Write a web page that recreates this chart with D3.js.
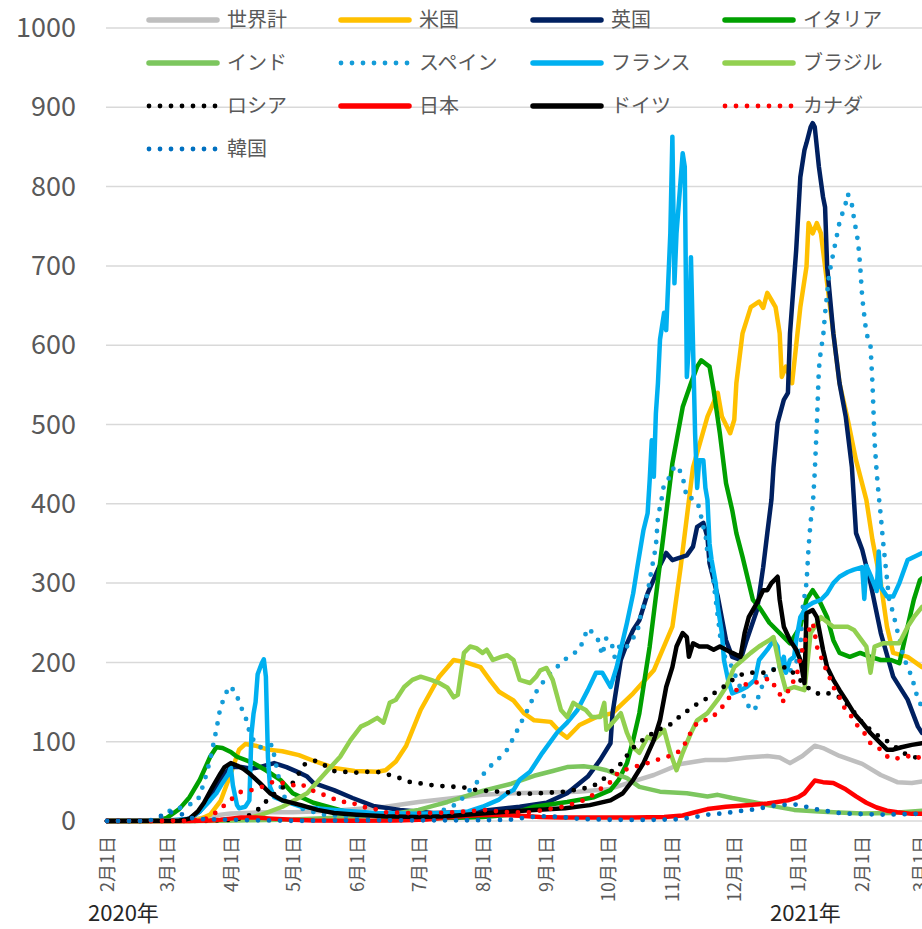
<!DOCTYPE html>
<html>
<head>
<meta charset="utf-8">
<script src="https://cdn.jsdelivr.net/npm/d3@7"></script>
<style>
  body { margin: 0; background: #fff; }
  svg text { font-family: "Noto Sans CJK JP", "Noto Sans", sans-serif; }
</style>
</head>
<body>
<div id="chart"></div>
<script>
// 凡例の順番（Excel の系列順）
const seriesNames = ["世界計", "米国", "英国", "イタリア", "インド", "スペイン", "フランス", "ブラジル", "ロシア", "日本", "ドイツ", "カナダ", "韓国"];
const seriesColors = ["#bfbfbf", "#ffc000", "#002060", "#00a000", "#7cc65e", "#149cd8", "#00b0f0", "#92d050", "#000000", "#ff0000", "#000000", "#ff0000", "#0070c0"];
const seriesDotted = [false, false, false, false, false, true, false, false, true, false, false, true, true];

const yTicks = [0, 100, 200, 300, 400, 500, 600, 700, 800, 900, 1000];
const yearLabels = ["2020年", "2021年"];

// 値: [2020/2/1 からの日数, 人口100万人あたり新規感染者数]
const world = [[0,0],[20,0.3],[29,1],[40,2],[50,5],[55,8],[60,9.5],[70,10.5],[80,11],[90,11],[100,12],[110,13],[121,15],[135,18],[151,24],[165,28],[182,33],[196,35],[213,36],[228,37],[243,40],[255,50],[265,58],[278,72],[290,77],[300,77],[310,80],[320,82],[326,80],[331,73],[337,82],[343,95],[347,92],[355,82],[366,72],[375,58],[383,49],[390,48],[395,50]];
const usa = [[0,0],[30,0.1],[40,0.5],[45,2],[50,8],[55,25],[60,60],[64,90],[67,97],[72,95],[78,90],[85,88],[93,83],[100,76],[110,67],[120,63],[131,62],[135,64],[140,75],[145,95],[152,140],[161,182],[168,203],[174,200],[181,194],[186,176],[190,163],[197,152],[202,136],[207,127],[215,125],[220,111],[223,105],[229,121],[237,131],[245,136],[255,161],[265,190],[274,245],[278,320],[284,446],[291,510],[296,540],[298,510],[302,489],[304,506],[305,552],[308,615],[312,648],[316,655],[318,647],[320,666],[322,657],[324,648],[326,615],[327,560],[329,573],[332,552],[336,648],[339,699],[340,754],[342,741],[344,754],[346,741],[349,678],[352,615],[355,552],[359,506],[363,455],[368,405],[371,354],[375,300],[378,245],[381,212],[388,207],[395,194]];
const uk = [[0,0],[35,0.5],[40,3],[45,12],[50,30],[56,56],[60,68],[65,68],[70,66],[74,68],[81,73],[87,68],[94,60],[97,56],[100,48],[110,39],[119,29],[129,19],[142,14],[158,10],[175,11],[190,15],[200,18],[213,23],[223,35],[233,56],[239,77],[244,98],[245,136],[249,203],[252,224],[255,241],[258,253],[262,287],[267,317],[271,338],[274,329],[281,335],[284,346],[286,371],[289,376],[291,358],[292,325],[296,283],[300,228],[303,207],[307,203],[310,228],[315,266],[318,320],[320,363],[322,405],[323,446],[325,502],[328,531],[330,540],[331,615],[334,720],[336,812],[338,846],[339,855],[341,875],[342,880],[343,875],[345,825],[347,787],[348,774],[349,699],[352,615],[355,552],[358,510],[361,446],[363,363],[366,342],[370,300],[375,237],[381,182],[388,153],[393,119],[395,111]];
const italy = [[0,0],[20,0],[25,1],[29,4],[35,15],[40,30],[45,52],[50,81],[53,93],[56,92],[60,87],[63,81],[71,73],[77,64],[84,52],[90,35],[100,23],[110,16],[121,8],[135,5],[151,3.5],[170,4],[182,5],[195,8],[207,18],[223,24],[236,30],[244,39],[248,52],[252,73],[255,102],[258,136],[263,220],[267,304],[271,388],[274,451],[279,522],[283,552],[286,573],[288,581],[290,577],[292,573],[294,543],[297,489],[300,426],[303,392],[305,363],[308,333],[313,279],[316,270],[321,250],[326,237],[331,224],[336,245],[339,279],[342,291],[345,279],[349,257],[352,228],[355,212],[360,207],[365,212],[370,207],[375,203],[380,203],[384,199],[388,245],[391,279],[394,304],[395,306]];
const india = [[0,0],[40,0],[55,0.3],[70,0.8],[90,1.8],[105,3.5],[121,5.5],[135,7.5],[151,14],[158,19],[165,24],[182,38],[196,47],[207,57],[216,63],[223,68],[231,69],[237,67],[242,64],[252,54],[258,43],[268,37],[281,35],[291,31],[296,33],[303,29],[313,24],[320,20],[333,14],[345,12],[352,11],[366,9.5],[380,10],[395,13]];
const spain = [[0,0],[25,1],[27,5],[31,14],[38,18],[44,26],[47,48],[50,77],[53,115],[55,144],[57,156],[59,170],[62,164],[66,137],[68,125],[69,112],[71,102],[74,93],[77,93],[80,96],[82,70],[85,33],[88,25],[95,15],[105,8],[120,5],[135,4],[150,5],[160,10],[170,22],[179,48],[184,64],[188,75],[190,79],[194,90],[198,110],[202,131],[205,146],[207,159],[211,174],[214,184],[218,194],[223,206],[229,216],[233,243],[236,236],[238,228],[240,209],[242,231],[245,220],[246,207],[249,224],[252,220],[254,228],[257,237],[258,253],[262,287],[263,304],[266,346],[267,383],[269,409],[270,426],[273,434],[275,448],[277,445],[279,434],[281,407],[284,407],[287,396],[288,383],[289,371],[290,363],[291,338],[293,320],[294,300],[295,279],[297,237],[298,212],[302,199],[306,174],[308,161],[310,149],[312,140],[314,140],[316,160],[320,187],[325,194],[330,185],[334,200],[336,216],[337,266],[339,300],[340,345],[341,378],[342,396],[343,440],[344,500],[345,570],[346,595],[347,609],[348,640],[349,665],[350,690],[352,716],[355,755],[358,779],[359,791],[361,777],[362,760],[364,730],[365,700],[366,660],[368,615],[370,600],[371,550],[372,478],[373,440],[374,410],[375,385],[376,355],[378,305],[379,280],[381,262],[383,240],[386,207],[388,194],[390,182],[392,163],[393,153],[395,144]];
const france = [[0,0],[30,0.5],[40,3],[45,12],[50,26],[53,35],[56,48],[59,60],[60,68],[61,45],[63,20],[64,16],[67,18],[69,26],[70,110],[71,135],[72,150],[73,185],[74,192],[75,199],[76,204],[77,182],[78,80],[79,43],[81,30],[85,26],[94,18],[110,14],[130,10],[150,9],[165,10],[175,12],[182,18],[190,27],[194,35],[197,39],[200,52],[205,62],[211,86],[218,111],[223,124],[228,140],[233,165],[237,187],[240,187],[244,169],[247,194],[252,250],[255,287],[257,320],[260,367],[262,388],[263,430],[264,480],[265,434],[266,514],[267,552],[268,607],[270,641],[271,619],[273,741],[274,863],[275,678],[276,741],[279,842],[280,825],[281,560],[282,600],[283,711],[284,600],[285,489],[286,420],[287,455],[289,455],[290,420],[291,405],[292,350],[293,329],[295,300],[296,270],[298,237],[299,203],[301,178],[303,161],[307,165],[310,169],[314,178],[316,203],[320,216],[323,228],[325,220],[326,194],[328,207],[329,187],[331,203],[333,207],[334,228],[336,257],[339,270],[342,275],[346,279],[349,287],[352,300],[355,308],[359,314],[362,317],[366,320],[367,280],[368,322],[370,310],[373,290],[374,340],[375,295],[378,283],[381,283],[384,300],[388,329],[391,333],[395,338]];
const brazil = [[0,0],[35,0],[45,0.2],[55,1],[65,3],[69,4],[75,8],[85,18],[97,35],[107,64],[113,81],[118,102],[123,119],[127,124],[131,130],[134,124],[137,149],[140,153],[144,169],[148,178],[152,182],[157,178],[161,174],[165,168],[168,156],[170,159],[173,212],[176,220],[179,218],[182,212],[184,216],[187,203],[191,207],[194,209],[197,203],[200,178],[205,174],[208,182],[210,190],[213,193],[216,178],[220,140],[223,131],[226,149],[229,144],[232,140],[235,131],[239,131],[241,149],[242,115],[245,124],[249,136],[252,111],[255,93],[258,86],[262,106],[265,102],[270,115],[273,86],[276,64],[279,86],[283,111],[286,127],[291,136],[296,153],[300,169],[304,194],[308,203],[312,212],[316,220],[321,228],[323,232],[326,194],[329,165],[333,169],[338,165],[341,237],[346,257],[352,245],[359,245],[362,241],[368,220],[370,187],[372,220],[376,224],[380,224],[384,224],[388,245],[391,257],[395,270]];
const russia = [[0,0],[50,0.3],[60,1.5],[67,4],[74,16],[79,30],[85,42],[90,48],[96,72],[101,76],[105,71],[110,63],[115,62],[121,61],[126,62],[131,62],[137,58],[142,54],[147,49],[153,47],[158,45],[163,44],[169,43],[174,42],[179,39],[184,38],[190,37],[195,36],[201,34],[210,35],[222,37],[233,42],[238,47],[242,56],[245,64],[250,74],[253,87],[258,100],[262,105],[266,115],[270,117],[275,125],[279,136],[283,141],[287,150],[292,156],[296,165],[300,171],[305,182],[310,187],[315,187],[320,187],[325,193],[330,194],[335,180],[341,165],[346,159],[350,161],[355,156],[360,144],[365,127],[370,115],[375,105],[380,98],[385,87],[390,81],[395,79]];
const japan = [[0,0],[40,0.1],[50,0.5],[55,1.5],[60,3],[65,4.5],[72,4.5],[80,3],[90,1.5],[100,0.5],[120,0.3],[140,0.5],[155,2],[165,4.5],[175,6.5],[182,7.5],[190,8],[200,6.5],[210,5],[220,4.5],[240,4.5],[255,4.5],[270,5],[279,7],[285,11],[291,15],[300,18],[310,20],[320,22],[330,26],[335,30],[338,35],[343,51],[347,49],[352,48],[358,40],[363,31],[368,23],[373,17],[378,13],[383,11],[390,9],[395,9]];
const germany = [[0,0],[35,0.3],[40,3],[44,12],[47,23],[51,42],[55,60],[57,68],[60,73],[63,70],[66,66],[69,60],[74,48],[79,35],[85,26],[94,20],[102,14],[110,10],[121,8],[135,6],[150,5],[165,6],[180,9],[195,12],[207,14],[222,16],[234,20],[244,26],[250,35],[255,52],[260,73],[265,102],[268,127],[271,169],[274,194],[276,220],[279,237],[281,232],[282,207],[284,224],[287,220],[291,220],[294,216],[297,220],[300,216],[303,212],[307,207],[309,237],[311,257],[315,275],[318,291],[320,291],[322,300],[325,308],[326,279],[328,245],[331,228],[334,216],[336,203],[338,174],[339,262],[342,266],[344,257],[347,216],[349,194],[352,178],[355,165],[358,153],[362,136],[366,124],[370,111],[375,98],[378,90],[381,90],[385,93],[390,96],[395,98]];
const canada = [[0,0],[40,0.2],[48,3],[53,11],[57,20],[61,29],[65,37],[70,39],[75,43],[81,50],[85,48],[90,45],[94,47],[98,40],[103,35],[108,30],[113,24],[118,24],[123,18],[129,16],[134,11],[145,10],[160,10],[175,12],[182,14],[195,11],[205,11],[212,14],[221,18],[230,25],[235,32],[239,40],[244,49],[248,62],[255,68],[262,73],[271,81],[275,83],[279,92],[283,112],[286,124],[290,127],[293,130],[297,140],[300,150],[303,161],[308,171],[312,174],[316,175],[321,180],[326,161],[327,149],[329,156],[331,171],[334,180],[336,207],[338,225],[340,240],[342,250],[343,237],[344,220],[346,207],[348,194],[350,182],[352,169],[355,156],[357,144],[361,131],[364,119],[367,111],[370,98],[375,90],[379,79],[384,79],[387,81],[391,83],[395,78]];
const korea = [[0,0],[17,0],[20,0.5],[23,2],[25,4],[27,8],[29,10],[31,11],[34,10],[37,8],[40,4],[45,2.5],[55,2],[70,1],[90,0.3],[110,0.5],[130,0.8],[150,0.9],[170,0.8],[195,1.5],[205,5],[212,6],[220,5],[230,2.5],[245,1.5],[260,1.3],[275,2],[283,4],[291,8],[300,10],[308,13],[315,15],[320,18],[325,20],[330,20.5],[333,21],[336,20],[340,17],[345,14],[350,12],[355,10],[362,9],[370,8.5],[378,8],[385,8.5],[390,9],[395,9]];

const seriesData = [world, usa, uk, italy, india, spain, france, brazil, russia, japan, germany, canada, korea];

const width = 922, height = 929;
const start = Date.UTC(2020, 1, 1);
const toDate = d => new Date(start + d * 86400000);

d3.select("#chart").html("");
const svg = d3.select("#chart").append("svg")
  .attr("width", width)
  .attr("height", height);

const x = d3.scaleUtc()
  .domain([new Date(start), new Date(Date.UTC(2021, 2, 1))])
  .range([107, 920]);

const y = d3.scaleLinear()
  .domain([0, 1000])
  .range([821, 28]);

// 目盛線
svg.append("g")
  .selectAll("line")
  .data(yTicks)
  .enter().append("line")
  .attr("x1", 106).attr("x2", width)
  .attr("y1", d => y(d)).attr("y2", d => y(d))
  .attr("stroke", "#d9d9d9")
  .attr("stroke-width", 1.5);

// 縦軸
const yAxis = svg.append("g")
  .attr("transform", "translate(106,0)")
  .call(d3.axisLeft(y).tickValues(yTicks).tickSize(0).tickPadding(30).tickFormat(d3.format("d")));
yAxis.select(".domain").remove();
yAxis.selectAll("text")
  .attr("fill", "#595959")
  .style("font-size", "27px");

// 横軸（各月1日）
const months = d3.utcMonth.range(new Date(start), new Date(Date.UTC(2021, 2, 2)));
const xAxis = svg.append("g")
  .attr("transform", "translate(0,821)")
  .call(d3.axisBottom(x).tickValues(months).tickSize(0)
    .tickFormat(d => `${d.getUTCMonth() + 1}月1日`));
xAxis.select(".domain").remove();
xAxis.selectAll("text")
  .attr("transform", "rotate(-90)")
  .attr("x", -15)
  .attr("y", 0)
  .attr("dy", "0.36em")
  .style("text-anchor", "end")
  .attr("fill", "#595959")
  .style("font-size", "18px");

svg.selectAll(".year")
  .data(yearLabels)
  .enter().append("text")
  .attr("class", "year")
  .attr("x", (d, i) => i === 0 ? 88 : 770)
  .attr("y", 921)
  .attr("fill", "#262626")
  .style("font-size", "22px")
  .text(d => d);

// 系列
const line = d3.line()
  .x(d => x(toDate(d[0])))
  .y(d => y(d[1]));

seriesData.forEach((data, i) => {
  const path = svg.append("path")
    .datum(data)
    .attr("d", line)
    .attr("fill", "none")
    .attr("stroke", seriesColors[i])
    .attr("stroke-linejoin", "round")
    .attr("stroke-linecap", "round");
  if (seriesDotted[i]) {
    path.attr("stroke-width", 4.8).attr("stroke-dasharray", "0 11");
  } else {
    path.attr("stroke-width", 4.5);
  }
});

// 凡例
const legend = svg.append("g");
seriesNames.forEach((name, i) => {
  const col = i % 4, row = Math.floor(i / 4);
  const lx = 149 + col * 192;
  const ly = 20 + row * 43;
  const g = legend.append("g");
  const l = g.append("line")
    .attr("x1", lx).attr("x2", lx + 68)
    .attr("y1", ly).attr("y2", ly)
    .attr("stroke", seriesColors[i])
    .attr("stroke-linecap", "round");
  if (seriesDotted[i]) {
    l.attr("stroke-width", 4.8).attr("stroke-dasharray", "0 11");
  } else {
    l.attr("stroke-width", 5.5);
  }
  g.append("text")
    .attr("x", lx + 78)
    .attr("y", ly)
    .attr("dy", "0.36em")
    .attr("fill", "#595959")
    .style("font-size", "20px")
    .text(name);
});
</script>
</body>
</html>
